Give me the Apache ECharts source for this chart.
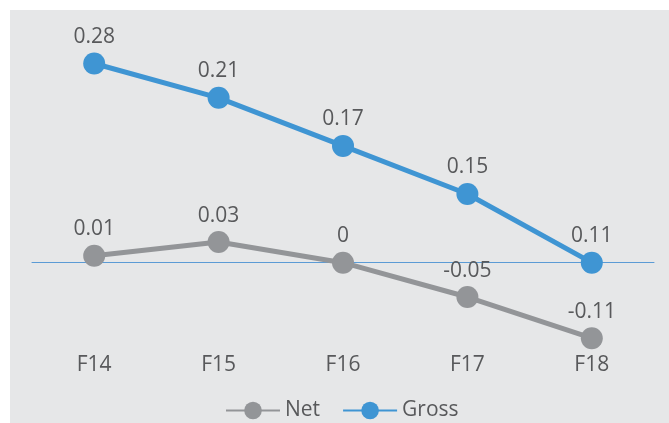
<!DOCTYPE html>
<html>
<head>
<meta charset="utf-8">
<script src="https://cdn.jsdelivr.net/npm/echarts@6/dist/echarts.min.js"></script>
<style>
  html, body { margin: 0; padding: 0; background: #ffffff; }
  #chart {
    width: 669px; height: 423px;
    background: linear-gradient(#e6e7e8, #e6e7e8) 10px 10px / 659px 413px no-repeat, #ffffff;
  }
</style>
</head>
<body>
<div id="chart"></div>
<script>
const categories = ['F14', 'F15', 'F16', 'F17', 'F18'];
const netValues = [0.01, 0.03, 0, -0.05, -0.11];
const grossValues = [0.28, 0.21, 0.17, 0.15, 0.11];

const textColor = '#58595b';
const fontFamily = '"Open Sans", "Noto Sans", sans-serif';
const netColor = '#939598';
const grossColor = '#3f95d3';

const chart = echarts.init(document.getElementById('chart'), null, { renderer: 'canvas' });

function lineSeries(name, values, color) {
  return {
    name: name,
    type: 'line',
    data: values,
    stack: 'total',
    stackStrategy: 'all',
    symbol: 'circle',
    symbolSize: 22,
    lineStyle: { color: color, width: 5 },
    itemStyle: { color: color },
    label: {
      show: true,
      position: 'top',
      distance: 5,
      color: textColor,
      fontSize: 21,
      fontFamily: fontFamily
    },
    emphasis: { disabled: true },
    animation: false,
    clip: false
  };
}

chart.setOption({
  backgroundColor: 'transparent',
  animation: false,
  grid: { left: 32, right: 15, top: 56.6, bottom: 77.9, containLabel: false },
  legend: {
    data: ['Net', 'Gross'],
    left: 220,
    top: 395,
    itemWidth: 54,
    itemHeight: 22,
    itemGap: 22,
    textStyle: { color: textColor, fontSize: 21, fontFamily: fontFamily },
    lineStyle: { width: 2 }
  },
  xAxis: [
    {
      type: 'category',
      data: categories,
      boundaryGap: true,
      position: 'bottom',
      axisLine: { show: false, onZero: false },
      axisTick: { show: false },
      axisLabel: { color: textColor, fontSize: 21, fontFamily: fontFamily, margin: 9 },
      splitLine: { show: false }
    },
    {
      type: 'category',
      data: categories,
      boundaryGap: true,
      position: 'bottom',
      axisLine: { show: true, onZero: true, lineStyle: { color: '#5b9bd5', width: 1 } },
      axisTick: { show: false },
      axisLabel: { show: false },
      splitLine: { show: false }
    }
  ],
  yAxis: {
    type: 'value',
    min: -0.12,
    max: 0.30,
    show: false,
    splitLine: { show: false }
  },
  series: [
    lineSeries('Net', netValues, netColor),
    lineSeries('Gross', grossValues, grossColor)
  ]
});
</script>
</body>
</html>
